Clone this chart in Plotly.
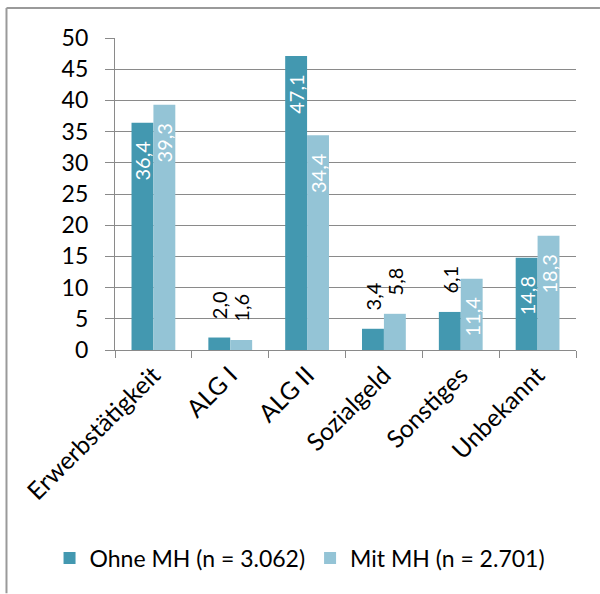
import plotly.graph_objects as go

# Data
categories = ["Erwerbstätigkeit", "ALG I", "ALG II", "Sozialgeld", "Sonstiges", "Unbekannt"]
ohne_mh = [36.4, 2.0, 47.1, 3.4, 6.1, 14.8]
mit_mh = [39.3, 1.6, 34.4, 5.8, 11.4, 18.3]
series_names = ["Ohne MH (n = 3.062)", "Mit MH (n = 2.701)"]
y_ticks = list(range(0, 55, 5))

# Label placement per bar (inside the bar top, or just above the bar)
ohne_pos = ["inside", "outside", "inside", "outside", "outside", "inside"]
mit_pos = ["inside", "outside", "inside", "outside", "inside", "inside"]

DARK = "#4398B0"
LIGHT = "#94C4D6"
GRID = "#8A8A8A"
FONT = "Lato, 'Open Sans', sans-serif"
PAD = "\u00a0\u00a0\u00a0"


def fmt(v):
    return f"{v:.1f}".replace(".", ",")


def labels(values, positions):
    # rotated text reads bottom-to-top: pad the end inside, the start outside
    out = []
    for v, p in zip(values, positions):
        out.append(fmt(v) + PAD if p == "inside" else PAD + fmt(v))
    return out


fig = go.Figure()
for name, vals, pos, col in [
    (series_names[0], ohne_mh, ohne_pos, DARK),
    (series_names[1], mit_mh, mit_pos, LIGHT),
]:
    fig.add_trace(go.Bar(
        x=categories, y=vals, name=name,
        marker=dict(color=col, line=dict(width=0)),
        text=labels(vals, pos), textposition=pos, textangle=-90,
        insidetextanchor="end", constraintext="none", cliponaxis=False,
        insidetextfont=dict(family=FONT, size=20, color="white"),
        outsidetextfont=dict(family=FONT, size=20, color="black"),
        hoverinfo="skip",
    ))

# outer frame: only the left and top edges fall inside the page
frame = dict(color="#9A9A9A", width=2)
fig.update_layout(
    width=600, height=594,
    margin=dict(l=115, r=24, t=38, b=244),
    paper_bgcolor="white", plot_bgcolor="white",
    barmode="group", bargap=0.43, bargroupgap=0,
    separators=",.",
    font=dict(family=FONT, size=23, color="black"),
    showlegend=True,
    legend=dict(orientation="h", x=-0.142, xanchor="left", y=-0.667, yanchor="middle",
                font=dict(family=FONT, size=23, color="black"),
                itemwidth=30, tracegroupgap=0, bgcolor="rgba(0,0,0,0)"),
    shapes=[
        dict(type="line", xref="paper", yref="paper",
             x0=-0.2354, x1=-0.2354, y0=-0.78, y1=1.096, line=frame, layer="above"),
        dict(type="line", xref="paper", yref="paper",
             x0=-0.2354, x1=1.052, y0=1.096, y1=1.096, line=frame, layer="above"),
    ],
)

fig.update_yaxes(
    range=[0, 50], tickvals=y_ticks, ticktext=[str(t) for t in y_ticks],
    showgrid=True, gridcolor=GRID, gridwidth=1.3,
    showline=True, linecolor=GRID, linewidth=1.3,
    ticks="outside", ticklen=9, tickcolor=GRID, tickwidth=1.3,
    ticklabelstandoff=12, zeroline=False,
    tickfont=dict(family=FONT, size=23, color="black"),
)
fig.update_xaxes(
    showgrid=False, showline=True, linecolor=GRID, linewidth=1.3,
    ticks="outside", ticklen=7, tickcolor=GRID, tickwidth=1.3,
    tickson="boundaries", tickangle=-45,
    tickfont=dict(family=FONT, size=24.5, color="black"),
)

fig.write_html("out.html")
